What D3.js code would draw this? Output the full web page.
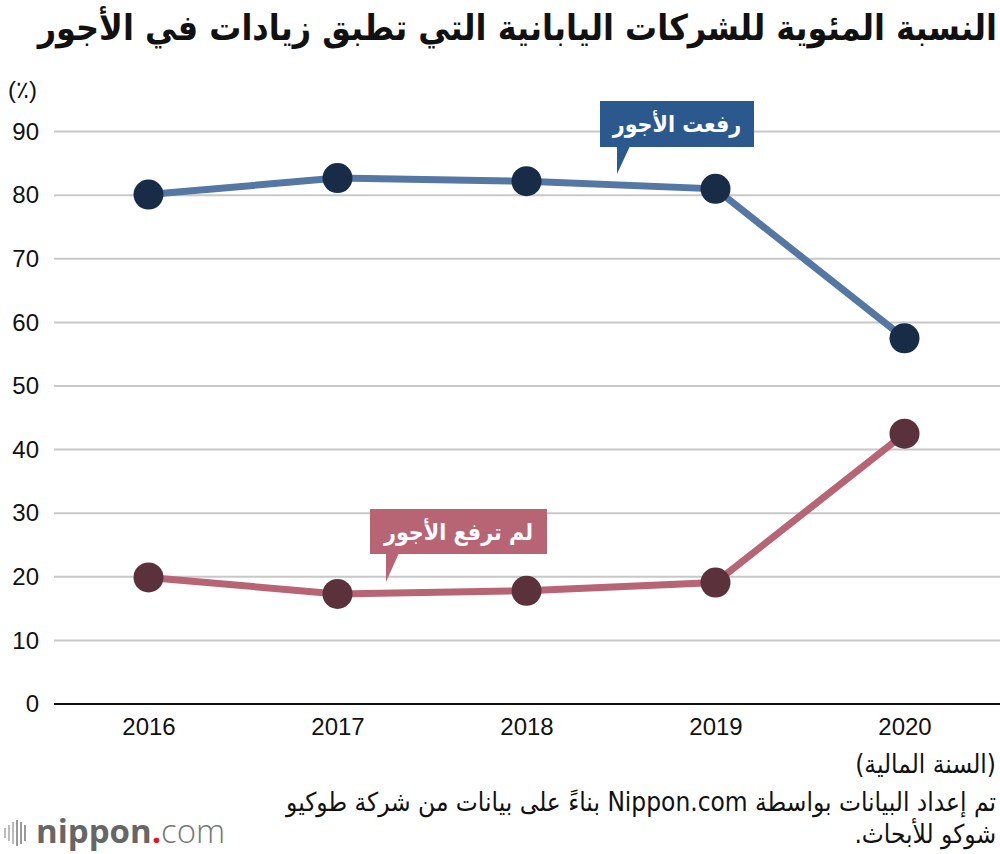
<!DOCTYPE html>
<html>
<head>
<meta charset="utf-8">
<script src="https://cdn.jsdelivr.net/npm/d3@7"></script>
<style>
  body { margin: 0; background: #fff; }
  svg { display: block; }
  .tick text { font-family: "Liberation Sans", Arial, sans-serif; }
</style>
</head>
<body>
<div id="chart"></div>
<script>
(function() {

const w = 1000;
const h = 854;

// data
const years = ["2016", "2017", "2018", "2019", "2020"];
const raised = [80.1, 82.7, 82.2, 81.0, 57.5];
const notRaised = [19.9, 17.3, 17.8, 19.1, 42.5];
const yTicks = [0, 10, 20, 30, 40, 50, 60, 70, 80, 90];

const title = "النسبة المئوية للشركات اليابانية التي تطبق زيادات في الأجور";
const raisedLabel = "رفعت الأجور";
const notRaisedLabel = "لم ترفع الأجور";
const unitLabel = "(٪)";
const xLabel = "(السنة المالية)";
const sourceLines = [
    "تم إعداد البيانات بواسطة Nippon.com بناءً على بيانات من شركة طوكيو",
    "شوكو للأبحاث."
];

const arabicFont = "'DejaVu Sans Condensed', 'DejaVu Sans', sans-serif";
const numFont = "'Liberation Sans', Arial, sans-serif";

const left = 54;
const right = 999;

const xScale = d3.scalePoint()
    .domain(years)
    .range([left, right])
    .padding(0.5);

const yScale = d3.scaleLinear()
    .domain([0, 90])
    .range([704, 131.6]);

const svg = d3.select("#chart")
    .append("svg")
    .attr("width", w)
    .attr("height", h)
    .attr("viewBox", `0 0 ${w} ${h}`);

// title
svg.append("text")
    .attr("x", 997)
    .attr("y", 40)
    .attr("direction", "rtl")
    .style("font-family", arabicFont)
    .style("font-weight", "bold")
    .style("font-size", "35.5px")
    .attr("fill", "#111")
    .text(title);

// unit
svg.append("text")
    .attr("x", 8)
    .attr("y", 98)
    .style("font-family", numFont)
    .style("font-size", "24px")
    .attr("fill", "#111")
    .text(unitLabel);

// gridlines
svg.append("g")
    .selectAll("line")
    .data(yTicks.filter(function(d) { return d > 0; }))
    .enter()
    .append("line")
    .attr("x1", left)
    .attr("x2", w)
    .attr("y1", function(d) { return yScale(d); })
    .attr("y2", function(d) { return yScale(d); })
    .attr("stroke", "#c8c8c8")
    .attr("stroke-width", 2);

// y axis labels
const yAxis = d3.axisLeft(yScale)
    .tickValues(yTicks)
    .tickSize(0)
    .tickPadding(0);

svg.append("g")
    .attr("transform", "translate(39,0)")
    .call(yAxis)
    .call(function(g) { g.select(".domain").remove(); })
    .selectAll("text")
    .style("font-size", "24px")
    .attr("fill", "#111");

// baseline
svg.append("line")
    .attr("x1", left)
    .attr("x2", w)
    .attr("y1", yScale(0))
    .attr("y2", yScale(0))
    .attr("stroke", "#111")
    .attr("stroke-width", 2);

// x axis labels
const xAxis = d3.axisBottom(xScale)
    .tickSize(0)
    .tickPadding(0);

svg.append("g")
    .attr("transform", `translate(0,${yScale(0) + 14})`)
    .call(xAxis)
    .call(function(g) { g.select(".domain").remove(); })
    .selectAll("text")
    .style("font-size", "24px")
    .attr("fill", "#111");

svg.append("text")
    .attr("x", 996)
    .attr("y", 773)
    .attr("direction", "rtl")
    .style("font-family", arabicFont)
    .style("font-size", "26px")
    .attr("fill", "#111")
    .text(xLabel);

// source
svg.selectAll(".source")
    .data(sourceLines)
    .enter()
    .append("text")
    .attr("class", "source")
    .attr("x", 996)
    .attr("y", function(d, i) { return 811 + i * 32; })
    .attr("direction", "rtl")
    .style("font-family", arabicFont)
    .style("font-size", "26px")
    .attr("fill", "#111")
    .text(function(d) { return d; });

// lines
const series = [
    { values: raised, line: "#5577a4", dot: "#182c48" },
    { values: notRaised, line: "#b76574", dot: "#5b323b" }
];

const lineGen = d3.line()
    .x(function(d, i) { return xScale(years[i]); })
    .y(function(d) { return yScale(d); });

series.forEach(function(s) {
    svg.append("path")
        .datum(s.values)
        .attr("d", lineGen)
        .attr("fill", "none")
        .attr("stroke", s.line)
        .attr("stroke-width", 7);

    svg.append("g")
        .selectAll("circle")
        .data(s.values)
        .enter()
        .append("circle")
        .attr("cx", function(d, i) { return xScale(years[i]); })
        .attr("cy", function(d) { return yScale(d); })
        .attr("r", 15)
        .attr("fill", s.dot);
});

// callouts
function callout(label, fill, bx, by, bw, bh, tip) {
    const g = svg.append("g");
    g.append("rect")
        .attr("x", bx)
        .attr("y", by)
        .attr("width", bw)
        .attr("height", bh)
        .attr("fill", fill);
    g.append("path")
        .attr("d", `M${tip[0]},${by + bh - 1} L${tip[0] + 13},${by + bh - 1} L${tip[0]},${tip[1]} Z`)
        .attr("fill", fill);
    g.append("text")
        .attr("x", bx + bw / 2)
        .attr("y", by + bh / 2 + 8)
        .attr("text-anchor", "middle")
        .style("font-family", arabicFont)
        .style("font-weight", "bold")
        .style("font-size", "23px")
        .attr("fill", "#fff")
        .text(label);
}

callout(raisedLabel, "#2b588d", 600, 101, 154, 46, [617, 174]);
callout(notRaisedLabel, "#b76574", 370, 509, 177, 45, [386, 582]);

// logo
const logo = svg.append("g");
const bars = [10, 16, 22, 26, 22, 16];
logo.selectAll("rect")
    .data(bars)
    .enter()
    .append("rect")
    .attr("x", function(d, i) { return 4 + i * 4; })
    .attr("y", function(d) { return 833 - d / 2; })
    .attr("width", 2)
    .attr("height", function(d) { return d; })
    .attr("fill", function(d, i) { return i < 3 ? "#bbb" : "#999"; });

const logoText = logo.append("text")
    .attr("x", 36)
    .attr("y", 843)
    .style("font-family", "'Open Sans', sans-serif")
    .style("font-size", "33px");
logoText.append("tspan")
    .attr("fill", "#666")
    .style("font-weight", "bold")
    .text("nippon");
logoText.append("tspan")
    .attr("fill", "#e8141e")
    .style("font-weight", "bold")
    .text(".");
logoText.append("tspan")
    .attr("fill", "#777")
    .style("font-weight", "300")
    .text("com");

})();
</script>
</body>
</html>
